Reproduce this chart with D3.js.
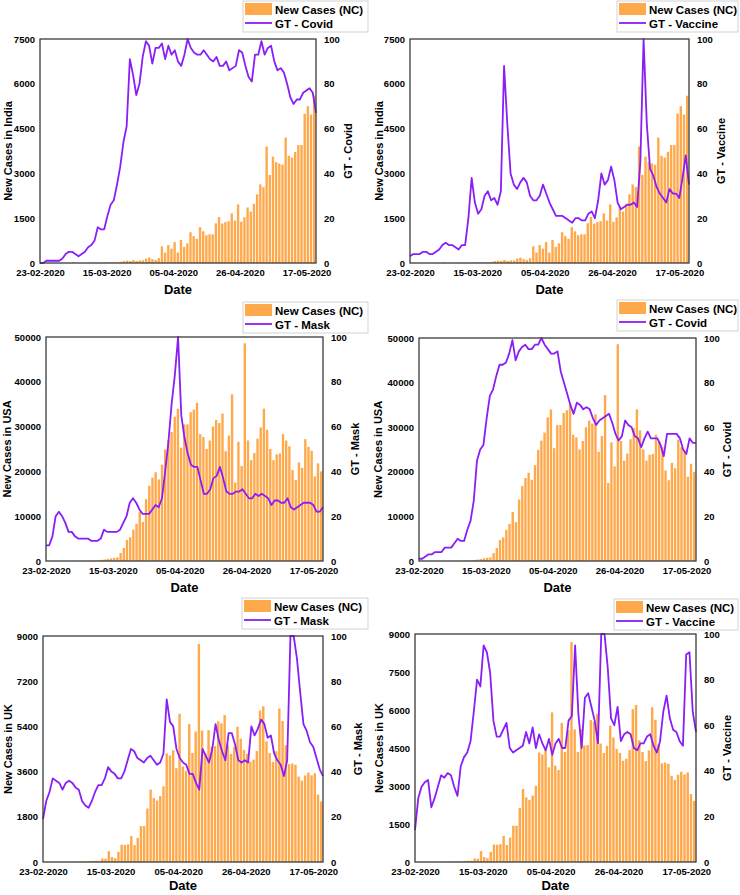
<!DOCTYPE html>
<html>
<head>
<meta charset="utf-8">
<script src="https://cdn.jsdelivr.net/npm/d3@7"></script>
<style>
  body { margin: 0; background: #fff; }
  svg { display: block; font-family: "Liberation Sans", Arial, sans-serif; font-weight: bold; }
</style>
</head>
<body>
<div id="chart"></div>
<script>
// categories
const firstDay = "23-02-2020";
const lastDay = "19-05-2020";
const dateTicks = ["23-02-2020", "15-03-2020", "05-04-2020", "26-04-2020", "17-05-2020"];

// left axis ticks
const indiaTicks = [0, 1500, 3000, 4500, 6000, 7500];
const usaTicks = [0, 10000, 20000, 30000, 40000, 50000];
const ukMaskTicks = [0, 1800, 3600, 5400, 7200, 9000];
const ukVaccineTicks = [0, 1500, 3000, 4500, 6000, 7500, 9000];
const gtTicks = [0, 20, 40, 60, 80, 100];

// daily new cases
const indiaCases = [0, 0, 0, 0, 0, 0, 0, 0,
  2, 1, 22, 2, 1, 3, 5, 9, 15, 8, 10, 10, 23, 15, 12, 22, 14, 39, 63, 80, 69,
  101, 70, 87, 89, 149, 180, 130, 100, 160,
  560, 350, 600, 480, 700, 350, 770, 540, 660, 1030, 900, 810, 1200, 1060, 930,
  960, 960, 1330, 1540, 1320, 1370, 1400, 1660, 1420, 1960, 1380, 1530, 1860, 1720, 1980,
  2300, 2630, 2540, 3900, 2950, 3560, 3380, 3330, 3290, 4200, 3590, 3530, 3720, 3950, 3950,
  5000, 5250, 4970, 5600];

const usaCases = [0, 0, 0, 0, 0, 0, 0, 0, 0, 0,
  5, 10, 20, 30, 50, 70, 120, 250, 350, 450,
  600, 700, 800, 1800, 2900, 4700, 5300, 7000, 8300, 11000, 8700,
  13800, 16800, 18600, 19800, 18200, 21500, 24900, 27000, 28800, 32200,
  34000, 25300, 30500, 30500, 33200, 33800, 35300, 28300, 27700, 25000,
  26900, 30000, 31500, 30800, 32900, 24500, 28000, 37200, 17500, 26600,
  21200, 48600, 26900, 22500, 24100, 27300, 29800, 34000, 29300, 25000,
  22500, 23800, 24000, 28300, 26900, 25600, 20300, 18100, 22000, 20800,
  27200, 25500, 24600, 18900, 21800, 20000];

const ukCases = [0, 0, 0, 0, 0, 0, 0, 0, 0,
  3, 5, 10, 10, 20, 30, 40, 50, 50,
  140, 130, 430, 200, 150, 400, 690, 680, 700, 1030, 670, 960, 1430, 1430, 2130, 2880, 2550, 2450, 2620, 3010,
  4324, 4244, 4450, 3735, 5903, 3802, 3634, 5491, 4344, 5195, 8681,
  5233, 4342, 5252, 4603, 4617, 5599, 5525, 5850, 4676, 4301,
  4583, 5386, 4913, 4463, 4309, 3996, 4076, 4419, 6032,
  6201, 4806, 4339, 3985, 4406, 6111, 5614, 4649, 3896, 3923,
  3877, 3403, 3242, 3446, 3560, 3451, 3534, 2684, 2412];

// google trends (0-100)
const gtIndiaCovid = [0, 0, 1, 1, 1, 1, 1, 2, 4, 5,
  5, 4, 3, 4, 5, 7, 8, 10, 16, 15,
  15, 21, 26, 28, 35, 43, 54, 61, 91, 84,
  75, 80, 92, 99, 97, 89, 96, 96, 98, 91,
  97, 93, 95, 90, 88, 93, 100, 96, 94, 93,
  93, 95, 93, 91, 90, 92, 88, 88, 90, 86,
  87, 88, 95, 94, 88, 83, 81, 93, 93, 99,
  93, 96, 97, 90, 86, 87, 85, 80, 74, 71,
  73, 73, 76, 77, 78, 76, 67];

const gtIndiaVaccine = [3, 4, 4, 4, 5, 5, 4, 4, 5, 6,
  8, 9, 8, 8, 7, 6, 8, 8, 20, 38,
  27, 22, 24, 30, 32, 28, 29, 26, 32, 88,
  62, 40, 35, 33, 36, 38, 36, 30, 28, 28,
  30, 35, 31, 27, 24, 21, 21, 21, 20, 19,
  18, 20, 20, 19, 19, 22, 23, 20, 28, 40,
  35, 37, 43, 37, 27, 24, 25, 26, 26, 27,
  25, 45, 100, 62, 42, 39, 34, 31, 29, 27,
  33, 31, 31, 29, 38, 48, 35];

const gtUsaMask = [7, 7, 11, 20, 22, 20, 17, 13, 13, 11,
  10, 10, 10, 10, 9, 9, 9, 10, 14, 13,
  13, 13, 13, 14, 17, 20, 26, 28, 26, 23,
  21, 21, 21, 23, 25, 24, 28, 40, 53, 70,
  83, 100, 65, 55, 48, 43, 42, 42, 36, 30,
  30, 32, 37, 38, 42, 37, 31, 30, 30, 31,
  31, 32, 30, 28, 28, 30, 29, 30, 29, 28,
  25, 27, 27, 26, 26, 28, 24, 23, 24, 25,
  26, 26, 26, 25, 22, 22, 24];

const gtUsaCovid = [1, 1, 2, 3, 3, 4, 4, 4, 6, 6,
  6, 8, 10, 9, 9, 14, 18, 27, 45, 50,
  52, 64, 74, 77, 83, 88, 88, 89, 93, 99,
  90, 94, 96, 97, 95, 95, 97, 97, 100, 97,
  95, 93, 93, 94, 85, 80, 75, 70, 66, 71,
  70, 68, 69, 68, 64, 61, 63, 64, 65, 66,
  62, 57, 54, 56, 63, 61, 60, 56, 55, 51,
  55, 58, 55, 55, 55, 52, 47, 57, 57, 57,
  57, 55, 50, 48, 55, 53, 53];

const gtUkMask = [19, 27, 31, 37, 36, 35, 32, 35, 36, 35,
  33, 32, 27, 25, 24, 27, 31, 34, 34, 37,
  42, 40, 39, 37, 37, 40, 45, 50, 49, 46,
  45, 44, 46, 47, 45, 43, 44, 48, 72, 62,
  60, 50, 46, 44, 43, 39, 39, 35, 32, 50,
  47, 44, 50, 61, 54, 49, 45, 57, 57, 52,
  45, 44, 45, 44, 60, 56, 59, 63, 61, 55,
  56, 48, 45, 43, 38, 45, 100, 100, 90, 75,
  61, 58, 53, 51, 46, 41, 38];

const gtUkVaccine = [14, 28, 33, 35, 36, 24, 28, 33, 38, 37,
  39, 38, 33, 29, 42, 46, 48, 53, 66, 80,
  77, 95, 92, 83, 62, 55, 55, 58, 61, 50,
  48, 49, 50, 51, 57, 52, 59, 50, 56, 52,
  49, 54, 47, 52, 54, 50, 50, 62, 64, 95,
  65, 50, 72, 74, 68, 62, 52, 100, 100, 85,
  63, 60, 68, 53, 56, 57, 56, 50, 49, 52,
  52, 55, 56, 51, 48, 53, 66, 73, 63, 58,
  57, 53, 51, 91, 92, 66, 57];

const orange = "#FFA94D";
const purple = "#8A1EF6";

const panels = [
  { cases: indiaCases, gt: gtIndiaCovid, ticks: indiaTicks, yTitle: "New Cases in India", gtName: "GT - Covid",
    left: 40, right: 316, top: 39, bottom: 263, lx0: 243, lx1: 368, ly0: 1, tl: 8, tr: 348, dateOff: 31 },
  { cases: indiaCases, gt: gtIndiaVaccine, ticks: indiaTicks, yTitle: "New Cases in India", gtName: "GT - Vaccine",
    left: 410, right: 689, top: 39, bottom: 263, lx0: 617, lx1: 738, ly0: 1, tl: 379, tr: 721, dateOff: 31 },
  { cases: usaCases, gt: gtUsaMask, ticks: usaTicks, yTitle: "New Cases in USA", gtName: "GT - Mask",
    left: 46, right: 323, top: 337, bottom: 561, lx0: 243, lx1: 368, ly0: 302, tl: 7, tr: 355, dateOff: 31 },
  { cases: usaCases, gt: gtUsaCovid, ticks: usaTicks, yTitle: "New Cases in USA", gtName: "GT - Covid",
    left: 419, right: 696, top: 338, bottom: 561, lx0: 617, lx1: 738, ly0: 300, tl: 378, tr: 727, dateOff: 31 },
  { cases: ukCases, gt: gtUkMask, ticks: ukMaskTicks, yTitle: "New Cases in UK", gtName: "GT - Mask",
    left: 43, right: 323, top: 636, bottom: 862, lx0: 242, lx1: 368, ly0: 598, tl: 8, tr: 358, dateOff: 28 },
  { cases: ukCases, gt: gtUkVaccine, ticks: ukVaccineTicks, yTitle: "New Cases in UK", gtName: "GT - Vaccine",
    left: 415, right: 696, top: 634, bottom: 862, lx0: 614, lx1: 738, ly0: 599, tl: 379, tr: 727, dateOff: 28 }
];

const parse = d3.utcParse("%d-%m-%Y");
const days = d3.utcDay.range(parse(firstDay), d3.utcDay.offset(parse(lastDay), 1));

const svg = d3.select("#chart")
    .append("svg")
    .attr("width", 740)
    .attr("height", 895);

panels.forEach(p => drawPanel(p));

function drawPanel(p) {
    const g = svg.append("g");

    const x = d3.scaleUtc()
        .domain([days[0], d3.utcDay.offset(days[days.length - 1], 1)])
        .range([p.left, p.right]);
    const xLine = d3.scaleLinear()
        .domain([0, days.length - 1])
        .range([p.left, p.right]);
    const y = d3.scaleLinear().domain([0, d3.max(p.ticks)]).range([p.bottom, p.top]);
    const y2 = d3.scaleLinear().domain([0, 100]).range([p.bottom, p.top]);

    // bars
    g.append("g")
        .selectAll("rect")
        .data(p.cases)
        .join("rect")
        .attr("x", (d, i) => x(days[i]) + 0.2)
        .attr("width", (d, i) => Math.max(0.5, x(d3.utcDay.offset(days[i], 1)) - x(days[i]) - 0.8))
        .attr("y", d => y(d))
        .attr("height", d => p.bottom - y(d))
        .attr("fill", orange);

    // trend line
    g.append("path")
        .datum(p.gt)
        .attr("fill", "none")
        .attr("stroke", purple)
        .attr("stroke-width", 1.8)
        .attr("stroke-linejoin", "round")
        .attr("d", d3.line().x((d, i) => xLine(i)).y(d => y2(d)));

    // frame
    g.append("rect")
        .attr("x", p.left).attr("y", p.top)
        .attr("width", p.right - p.left).attr("height", p.bottom - p.top)
        .attr("fill", "none")
        .attr("stroke", "#3a3a3a")
        .attr("stroke-width", 1.3);

    // axes
    const xAxis = d3.axisBottom(x)
        .tickValues(dateTicks.map(parse))
        .tickFormat(d3.utcFormat("%d-%m-%Y"))
        .tickSize(0)
        .tickPadding(6);
    g.append("g")
        .attr("transform", `translate(0,${p.bottom})`)
        .call(xAxis)
        .call(a => a.select(".domain").remove())
        .attr("font-family", null)
        .attr("font-size", 9.5);

    g.append("g")
        .attr("transform", `translate(${p.left},0)`)
        .call(d3.axisLeft(y).tickValues(p.ticks).tickFormat(d3.format("d")).tickSize(0).tickPadding(5))
        .call(a => a.select(".domain").remove())
        .attr("font-family", null)
        .attr("font-size", 9.5);

    g.append("g")
        .attr("transform", `translate(${p.right},0)`)
        .call(d3.axisRight(y2).tickValues(gtTicks).tickFormat(d3.format("d")).tickSize(0).tickPadding(8))
        .call(a => a.select(".domain").remove())
        .attr("font-family", null)
        .attr("font-size", 9.5);

    // titles
    const midY = (p.top + p.bottom) / 2;
    g.append("text")
        .attr("transform", `translate(${p.tl},${midY}) rotate(-90)`)
        .attr("text-anchor", "middle")
        .attr("dominant-baseline", "central")
        .attr("font-size", 11)
        .text(p.yTitle);
    g.append("text")
        .attr("transform", `translate(${p.tr},${midY}) rotate(-90)`)
        .attr("text-anchor", "middle")
        .attr("dominant-baseline", "central")
        .attr("font-size", 11)
        .text(p.gtName);
    g.append("text")
        .attr("x", (p.left + p.right) / 2)
        .attr("y", p.bottom + p.dateOff)
        .attr("text-anchor", "middle")
        .attr("font-size", 13)
        .text("Date");

    // legend
    const lg = g.append("g").attr("transform", `translate(${p.lx0},${p.ly0})`);
    lg.append("rect")
        .attr("x", 0).attr("y", 0)
        .attr("width", p.lx1 - p.lx0).attr("height", 31)
        .attr("fill", "#fff")
        .attr("stroke", "#c8c8c8")
        .attr("stroke-width", 0.8);
    lg.append("rect")
        .attr("x", 2).attr("y", 2)
        .attr("width", 27).attr("height", 12)
        .attr("fill", orange);
    lg.append("line")
        .attr("x1", 2).attr("x2", 29)
        .attr("y1", 22).attr("y2", 22)
        .attr("stroke", purple)
        .attr("stroke-width", 1.8);
    lg.append("text")
        .attr("x", 32).attr("y", 12.5)
        .attr("font-size", 11.5)
        .text("New Cases (NC)");
    lg.append("text")
        .attr("x", 32).attr("y", 27)
        .attr("font-size", 11.5)
        .text(p.gtName);
}
</script>
</body>
</html>
